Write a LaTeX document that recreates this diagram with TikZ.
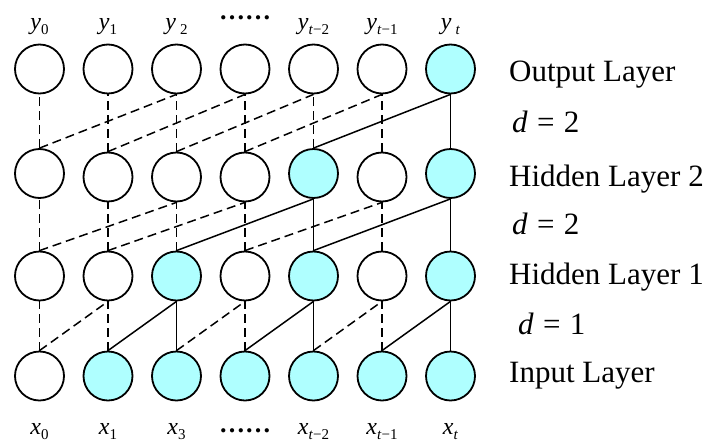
\documentclass[tikz,border=0pt]{standalone}
\usepackage{fontspec}
\setmainfont{Liberation Serif}
\definecolor{actfill}{RGB}{175,255,255}
\newcommand\lsub[1]{\raisebox{-5pt}{\fontsize{15}{15}\selectfont #1}}
\begin{document}
\begin{tikzpicture}[x=1pt,y=-1pt,
  neuron/.style={circle, draw, line width=1.8pt, minimum size=49pt, inner sep=0pt, fill=white},
  actneuron/.style={neuron, fill=actfill},
  con/.style={line width=1.5pt},
  dcon/.style={con, dash pattern=on 9pt off 5pt},
  varlab/.style={anchor=base, inner sep=0pt, font=\fontsize{24}{28}\selectfont},
  dotlab/.style={anchor=base, inner sep=0pt, font=\fontsize{26}{26}\selectfont\bfseries},
  layerlab/.style={anchor=base west, inner sep=0pt, font=\fontsize{31}{36}\selectfont}]
\useasboundingbox (0,0) rectangle (709,442);
% input layer
\node[neuron] (I0) at (39.5,376) {};
\foreach \i/\x in {1/108,2/176.5,3/245,4/313.5,5/382,6/450.5}
  \node[actneuron] (I\i) at (\x,376) {};
% hidden layer 1
\foreach \i/\x in {0/39.5,1/108,3/245,5/382}
  \node[neuron] (A\i) at (\x,276) {};
\foreach \i/\x in {2/176.5,4/313.5,6/450.5}
  \node[actneuron] (A\i) at (\x,276) {};
% hidden layer 2
\node[neuron] (B0) at (39.5,173.5) {};
\foreach \i/\x in {1/108,2/176.5,3/245,5/382}
  \node[neuron] (B\i) at (\x,177) {};
\foreach \i/\x in {4/313.5,6/450.5}
  \node[actneuron] (B\i) at (\x,173.5) {};
% output layer
\foreach \i/\x in {0/39.5,1/108,2/176.5,3/245,4/313.5,5/382}
  \node[neuron] (O\i) at (\x,69) {};
\node[actneuron] (O6) at (450.5,69) {};
% input -> hidden 1 (d=1)
\draw[dcon] (I0.north) -- (A0.south);
\draw[dcon] (I1.north) -- (A1.south);
\draw[dcon] (I0.north) -- (A1.south);
\draw[con] (I2.north) -- (A2.south);
\draw[con] (I1.north) -- (A2.south);
\draw[dcon] (I3.north) -- (A3.south);
\draw[dcon] (I2.north) -- (A3.south);
\draw[con] (I4.north) -- (A4.south);
\draw[con] (I3.north) -- (A4.south);
\draw[dcon] (I5.north) -- (A5.south);
\draw[dcon] (I4.north) -- (A5.south);
\draw[con] (I6.north) -- (A6.south);
\draw[con] (I5.north) -- (A6.south);
% hidden 1 -> hidden 2 (d=2)
\draw[dcon] (A0.north) -- (B0.south);
\draw[dcon] (A1.north) -- (B1.south);
\draw[dcon] (A2.north) -- (B2.south);
\draw[dcon] (A0.north) -- (B2.south);
\draw[dcon] (A3.north) -- (B3.south);
\draw[dcon] (A1.north) -- (B3.south);
\draw[con] (A4.north) -- (B4.south);
\draw[con] (A2.north) -- (B4.south);
\draw[dcon] (A5.north) -- (B5.south);
\draw[dcon] (A3.north) -- (B5.south);
\draw[con] (A6.north) -- (B6.south);
\draw[con] (A4.north) -- (B6.south);
% hidden 2 -> output (d=2)
\draw[dcon] (B0.north) -- (O0.south);
\draw[dcon] (B1.north) -- (O1.south);
\draw[dcon] (B2.north) -- (O2.south);
\draw[dcon] (B0.north) -- (O2.south);
\draw[dcon] (B3.north) -- (O3.south);
\draw[dcon] (B1.north) -- (O3.south);
\draw[dcon] (B4.north) -- (O4.south);
\draw[dcon] (B2.north) -- (O4.south);
\draw[dcon] (B5.north) -- (O5.south);
\draw[dcon] (B3.north) -- (O5.south);
\draw[con] (B6.north) -- (O6.south);
\draw[con] (B4.north) -- (O6.south);
% top labels
\node[varlab] (ly0) at (39.5,29) {\textit{y}\lsub{0}};
\node[varlab] (ly1) at (108,29) {\textit{y}\lsub{1}};
\node[varlab] (ly2) at (176.5,29) {\textit{y}\,\lsub{2}};
\node[dotlab] (lyd) at (245,19) {……};
\node[varlab] (ly3) at (313.5,29) {\textit{y}\lsub{\textit{t}−2}};
\node[varlab] (ly4) at (382,29) {\textit{y}\lsub{\textit{t}−1}};
\node[varlab] (ly5) at (450.5,29) {\textit{y}\,\lsub{\textit{t}}};
% bottom labels
\node[varlab] (lx0) at (39.5,434) {\textit{x}\lsub{0}};
\node[varlab] (lx1) at (108,434) {\textit{x}\lsub{1}};
\node[varlab] (lx2) at (176.5,434) {\textit{x}\lsub{3}};
\node[dotlab] (lxd) at (245,432) {……};
\node[varlab] (lx3) at (313.5,434) {\textit{x}\lsub{\textit{t}−2}};
\node[varlab] (lx4) at (382,434) {\textit{x}\lsub{\textit{t}−1}};
\node[varlab] (lx5) at (450.5,434) {\textit{x}\lsub{\textit{t}}};
% right labels
\node[layerlab] (lout) at (509,81) {Output Layer};
\node[layerlab] (ld3) at (512,132) {\textit{d}\hspace{0.3em}=\hspace{0.3em}2};
\node[layerlab] (lh2) at (509,186) {Hidden Layer 2};
\node[layerlab] (ld2) at (512,234) {\textit{d}\hspace{0.3em}=\hspace{0.3em}2};
\node[layerlab] (lh1) at (509,284) {Hidden Layer 1};
\node[layerlab] (ld1) at (518,334) {\textit{d}\hspace{0.3em}=\hspace{0.3em}1};
\node[layerlab] (lin) at (509,382) {Input Layer};
\end{tikzpicture}
\end{document}
